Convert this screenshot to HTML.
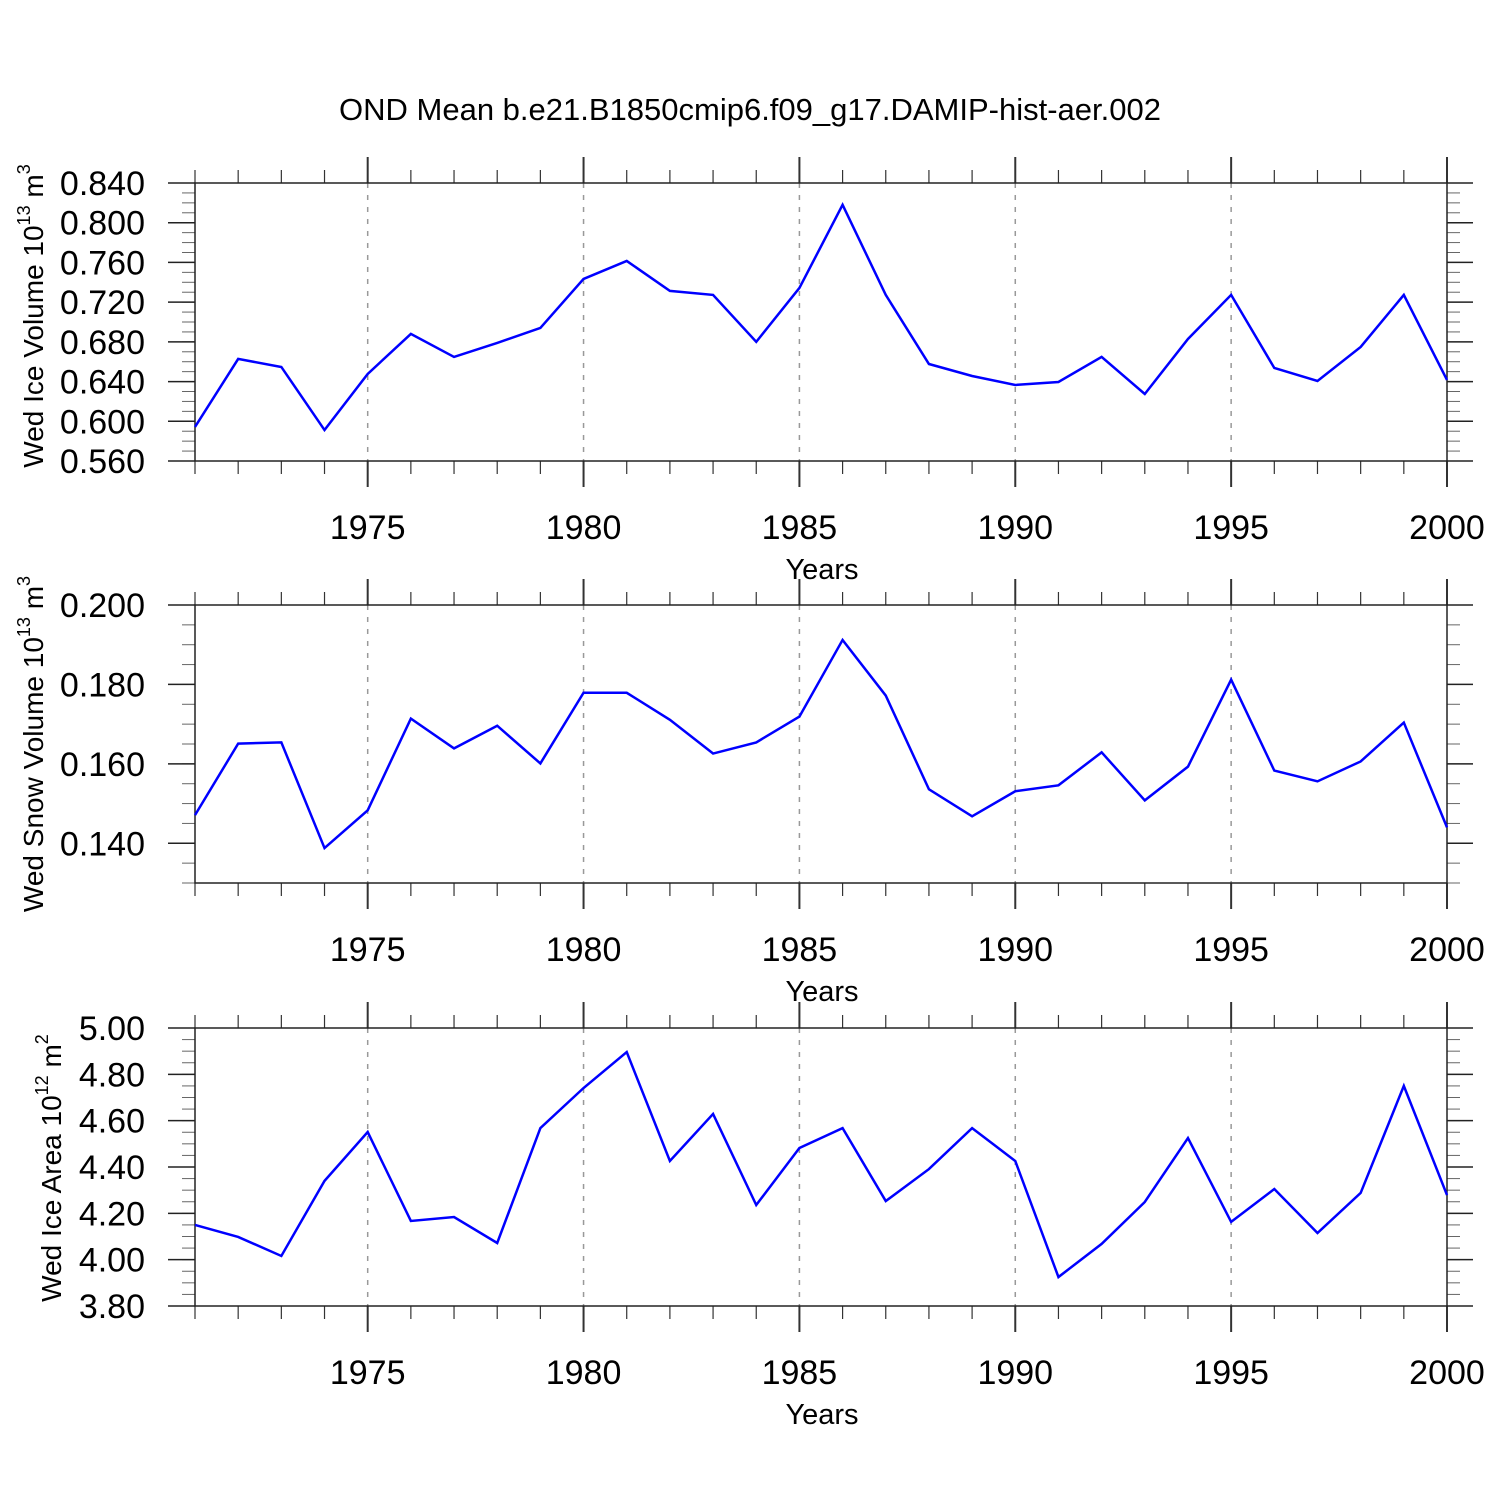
<!DOCTYPE html>
<html><head><meta charset="utf-8"><style>
body{margin:0;background:#fff}
text{font-family:"Liberation Sans",sans-serif;fill:#000}
</style></head><body>
<svg id="c" width="1500" height="1500" xmlns="http://www.w3.org/2000/svg">
<text x="750" y="120" font-size="31" text-anchor="middle">OND Mean b.e21.B1850cmip6.f09_g17.DAMIP-hist-aer.002</text>
</svg>
<script>
const years=[1971,1972,1973,1974,1975,1976,1977,1978,1979,1980,1981,1982,1983,1984,1985,1986,1987,1988,1989,1990,1991,1992,1993,1994,1995,1996,1997,1998,1999,2000];
const iceVolume=[0.5943,0.6628,0.6547,0.5912,0.6477,0.688,0.6648,0.6789,0.694,0.7434,0.7615,0.7313,0.7273,0.680,0.7343,0.818,0.7273,0.6577,0.6456,0.6366,0.6396,0.6648,0.6275,0.6829,0.7273,0.6537,0.6406,0.6749,0.7273,0.6416];
const snowVolume=[0.1471,0.1651,0.1654,0.1388,0.1483,0.1714,0.1639,0.1696,0.1601,0.1779,0.1779,0.1711,0.1626,0.1654,0.1719,0.1912,0.1772,0.1536,0.1468,0.1531,0.1546,0.1629,0.1508,0.1593,0.1812,0.1583,0.1556,0.1606,0.1704,0.1440];
const iceArea=[4.150,4.098,4.016,4.340,4.551,4.167,4.184,4.072,4.568,4.741,4.896,4.426,4.629,4.236,4.482,4.568,4.253,4.391,4.568,4.426,3.925,4.068,4.249,4.525,4.163,4.305,4.115,4.288,4.750,4.279];
const xTicks=[1975,1980,1985,1990,1995,2000];
const iceTicks=[0.56,0.60,0.64,0.68,0.72,0.76,0.80,0.84];
const snowTicks=[0.14,0.16,0.18,0.20];
const areaTicks=[3.8,4.0,4.2,4.4,4.6,4.8,5.0];

const svg=document.getElementById('c');
const NS='http://www.w3.org/2000/svg';
const X0=195,X1=1447,xmin=1971,xmax=2000;
const xs=v=>X0+(v-xmin)/(xmax-xmin)*(X1-X0);
function mk(tag,attrs,parent){const e=document.createElementNS(NS,tag);for(const k in attrs)e.setAttribute(k,attrs[k]);(parent||svg).appendChild(e);return e;}

function panel(name,top,bot,ymin,ymax,ticks,minorStep,dec,vals,ylab){
  const g=mk('g',{});
  
  
  const ys=v=>bot-(v-ymin)/(ymax-ymin)*(bot-top);
  xTicks.forEach(t=>{if(t<xmax){const l=mk('line',{x1:xs(t),x2:xs(t),y1:top,y2:bot,stroke:'#999','stroke-width':1.5,'stroke-dasharray':'5,7'},g);
    
    }});
  for(let y=xmin;y<=xmax;y++){
    const maj=y%5===0;const len=maj?26:13;
    mk('line',{x1:xs(y),x2:xs(y),y1:top-len,y2:top,stroke:'#333','stroke-width':maj?2:1.2},g);
    mk('line',{x1:xs(y),x2:xs(y),y1:bot,y2:bot+len,stroke:'#333','stroke-width':maj?2:1.2},g);
  }
  const n=Math.round((ymax-ymin)/minorStep);
  for(let i=0;i<=n;i++){const v=ymin+i*minorStep;const y=ys(v);
    mk('line',{x1:X0-13,x2:X0,y1:y,y2:y,stroke:'#666','stroke-width':1},g);
    mk('line',{x1:X1,x2:X1+13,y1:y,y2:y,stroke:'#666','stroke-width':1},g);}
  ticks.forEach(t=>{const y=ys(t);
    mk('line',{x1:X0-27,x2:X0,y1:y,y2:y,stroke:'#222','stroke-width':1.5},g);
    mk('line',{x1:X1,x2:X1+26,y1:y,y2:y,stroke:'#222','stroke-width':1.5},g);
    const tx=mk('text',{x:145,y:y+12,'font-size':34,'text-anchor':'end'},g);
    
    
    tx.textContent=t.toFixed(dec);});
  xTicks.forEach(t=>{const tx=mk('text',{x:xs(t),y:bot+78,'font-size':34,'text-anchor':'middle'},g);
    
    
    tx.textContent=t;});
  const fr=mk('rect',{x:X0,y:top,width:X1-X0,height:bot-top,fill:'none',stroke:'#222','stroke-width':1.5},g);
  
  
  const pts=vals.map((v,i)=>xs(years[i])+','+ys(v)).join(' ');
  const pl=mk('polyline',{points:pts,fill:'none',stroke:'#0000ff','stroke-width':2.5},g);
  
  
  const xl=mk('text',{x:822,y:bot+118,'font-size':29,'text-anchor':'middle'},g);
  
  
  xl.textContent='Years';
  const yl=mk('text',{transform:'translate('+ylab[2]+','+ylab[0]+') rotate(-90)','font-size':28,'text-anchor':'middle'},g);
  
  
  yl.innerHTML=ylab[1];
}
panel('ice-volume',183,461,0.56,0.84,iceTicks,0.01,3,iceVolume,[316,'Wed Ice Volume 10<tspan font-size="18" dy="-13">13</tspan><tspan dy="13"> m</tspan><tspan font-size="18" dy="-13">3</tspan>',43]);
panel('snow-volume',605,883,0.13,0.20,snowTicks,0.005,3,snowVolume,[744,'Wed Snow Volume 10<tspan font-size="18" dy="-13">13</tspan><tspan dy="13"> m</tspan><tspan font-size="18" dy="-13">3</tspan>',43]);
panel('ice-area',1028,1306,3.8,5.0,areaTicks,0.05,2,iceArea,[1168,'Wed Ice Area 10<tspan font-size="18" dy="-13">12</tspan><tspan dy="13"> m</tspan><tspan font-size="18" dy="-13">2</tspan>',61]);
</script>
</body></html>
